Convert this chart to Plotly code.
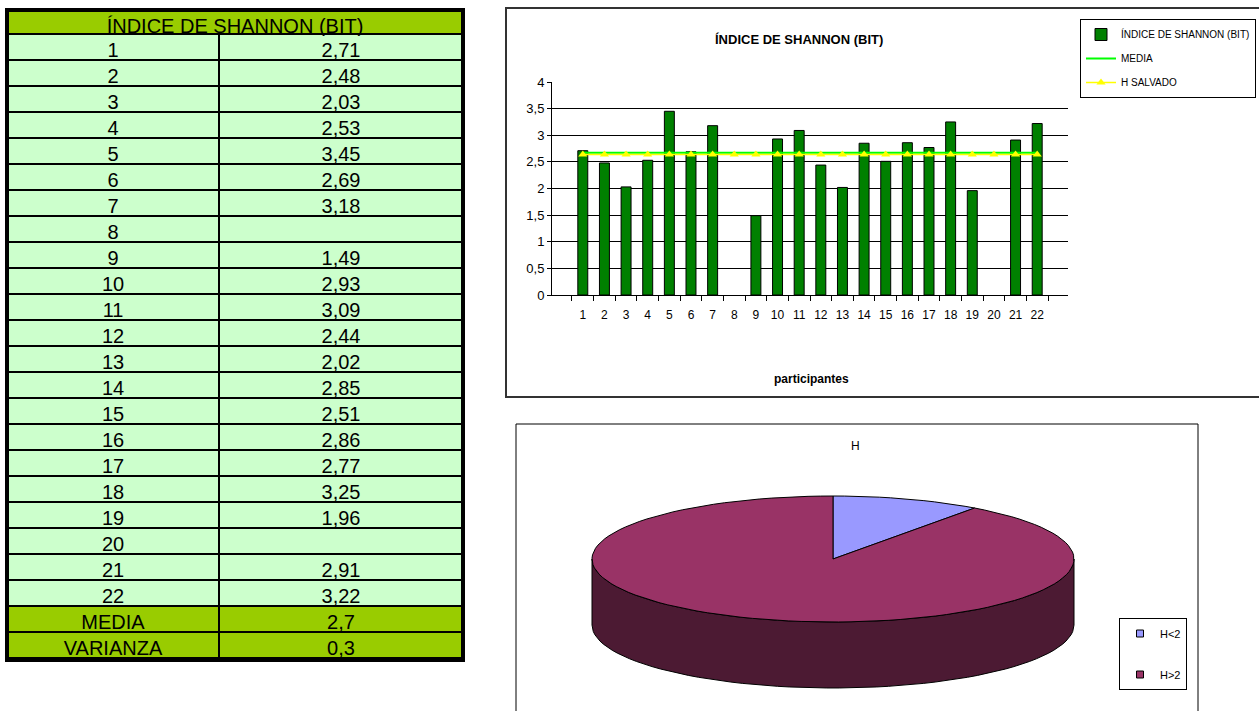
import math
import plotly.graph_objects as go

W, H = 1259, 711

# ---------------- data ----------------
participants = [str(i) for i in range(1, 23)]
shannon = [2.71, 2.48, 2.03, 2.53, 3.45, 2.69, 3.18, None, 1.49, 2.93, 3.09,
           2.44, 2.02, 2.85, 2.51, 2.86, 2.77, 3.25, 1.96, None, 2.91, 3.22]
media_line = [2.67, 2.67, 2.67, 2.67, 2.67, 2.67, 2.67, 2.67, 2.67, 2.67, 2.67,
              2.67, 2.67, 2.67, 2.67, 2.67, 2.67, 2.67, 2.67, 2.67, 2.67, 2.67]
h_salvado = [2.64, 2.64, 2.64, 2.64, 2.64, 2.64, 2.64, 2.64, 2.64, 2.64, 2.64,
             2.64, 2.64, 2.64, 2.64, 2.64, 2.64, 2.64, 2.64, 2.64, 2.64, 2.64]
stat_labels = ["MEDIA", "VARIANZA"]
stat_values = [2.7, 0.3]
pie_labels = ["H<2", "H>2"]
pie_values = [2, 18]

table_title = "ÍNDICE DE SHANNON (BIT)"
series_names = ["ÍNDICE DE SHANNON (BIT)", "MEDIA", "H SALVADO"]

FONT = "Arial, Liberation Sans, sans-serif"
LIGHT = "#CCFFCC"
LIME = "#99CC00"


def fmt(v):
    return "" if v is None else str(v).replace(".", ",")


def px(x):
    return x / W


def py(y):
    return 1 - y / H


fig = go.Figure()

# ---------------- table ----------------
col1 = participants + stat_labels
col2 = [fmt(v) for v in shannon] + [fmt(v) for v in stat_values]
fills = [LIGHT] * len(participants) + [LIME] * len(stat_labels)

fig.add_trace(go.Table(
    domain=dict(x=[px(7), px(463)], y=[0, py(10)]),
    columnwidth=[212, 244],
    header=dict(values=["", ""], height=24, fill_color=LIME,
                line=dict(color="black", width=2)),
    cells=dict(values=[col1, col2], height=26, align="center",
               fill_color=[fills, fills],
               line=dict(color="black", width=2),
               font=dict(family=FONT, size=20, color="black")),
))
fig.add_trace(go.Table(
    domain=dict(x=[px(7), px(463)], y=[py(36), py(10)]),
    header=dict(values=[table_title], height=24, fill_color=LIME, align="center",
                line=dict(color="black", width=2),
                font=dict(family=FONT, size=20, color="black")),
    cells=dict(values=[[]]),
))

# ---------------- bar chart ----------------
fig.add_trace(go.Bar(
    x=participants, y=shannon, name=series_names[0],
    marker=dict(color="#008000", line=dict(color="black", width=1)),
    legendgroup="a", xaxis="x", yaxis="y",
))
fig.add_trace(go.Scatter(
    x=participants, y=media_line, name=series_names[1], mode="lines",
    line=dict(color="#00FF00", width=2), legendgroup="b", xaxis="x", yaxis="y",
))
fig.add_trace(go.Scatter(
    x=participants, y=h_salvado, name=series_names[2], mode="lines+markers",
    line=dict(color="#FFFF00", width=1.5),
    marker=dict(symbol="triangle-up", size=8, color="#FFFF00"),
    legendgroup="c", xaxis="x", yaxis="y",
))

# ---------------- 3D pie ----------------
RX, RY, DEPTH = 241, 63, 66
top_colors = ["#9999FF", "#993366"]
side_colors = ["#4C4C80", "#4C1A33"]


def arc(a, b, dy=0, n=120):
    pts = []
    steps = max(2, int(n * (b - a) / 360) + 2)
    for i in range(steps):
        t = math.radians(a + (b - a) * i / (steps - 1))
        pts.append((RX * math.sin(t), RY * math.cos(t) - dy))
    return pts


total = sum(pie_values)
angles = []
acc = 0
for v in pie_values:
    angles.append((acc / total * 360, (acc + v) / total * 360))
    acc += v

for (a, b), sc in zip(angles, side_colors):
    lo, hi = max(a, 90), min(b, 270)
    if lo < hi:
        pts = arc(lo, hi) + arc(lo, hi, DEPTH)[::-1]
        pts.append(pts[0])
        fig.add_trace(go.Scatter(
            x=[p[0] for p in pts], y=[p[1] for p in pts], mode="lines",
            fill="toself", fillcolor=sc, line=dict(color="black", width=1),
            showlegend=False, hoverinfo="skip", xaxis="x2", yaxis="y2"))

for (a, b), tc in zip(angles, top_colors):
    pts = [(0, 0)] + arc(a, b) + [(0, 0)]
    fig.add_trace(go.Scatter(
        x=[p[0] for p in pts], y=[p[1] for p in pts], mode="lines",
        fill="toself", fillcolor=tc, line=dict(color="black", width=1),
        showlegend=False, hoverinfo="skip", xaxis="x2", yaxis="y2"))

for lab, tc in zip(pie_labels, top_colors):
    fig.add_trace(go.Scatter(
        x=[None], y=[None], mode="markers", name=lab,
        marker=dict(symbol="square", size=7, color=tc, line=dict(color="black", width=1)),
        legend="legend2", legendgroup=lab, xaxis="x2", yaxis="y2"))

# ---------------- layout ----------------
fig.update_layout(
    width=W, height=H, margin=dict(l=0, r=0, t=0, b=0, autoexpand=False),
    paper_bgcolor="white", plot_bgcolor="rgba(0,0,0,0)",
    separators=",.",
    font=dict(family=FONT, color="black", size=12),
    bargap=0.54,
    xaxis=dict(domain=[px(552), px(1068)], type="category", tickson="boundaries",
               ticks="outside", ticklen=5, tickcolor="black", showline=True,
               linecolor="black", showgrid=False, tickfont=dict(size=12),
               ticklabelstandoff=9,
               tickangle=0, anchor="y", fixedrange=True, automargin=False),
    yaxis=dict(domain=[py(295), py(82)], range=[0, 4], dtick=0.5, showgrid=True,
               gridcolor="black", gridwidth=1, showline=True, linecolor="black",
               ticks="outside", ticklen=4, tickcolor="black", zeroline=False,
               tickfont=dict(size=13), anchor="x", automargin=False),
    xaxis2=dict(domain=[px(516), px(1198)], range=[516 - 833, 1198 - 833],
                visible=False, anchor="y2"),
    yaxis2=dict(domain=[0, py(424)], range=[559 - 711, 559 - 424],
                visible=False, anchor="x2"),
    legend=dict(x=px(1080), y=py(19), xanchor="left", yanchor="top",
                bordercolor="black", borderwidth=1, bgcolor="white",
                font=dict(size=10), tracegroupgap=5, itemwidth=30),
    legend2=dict(x=px(1119), y=py(618), xanchor="left", yanchor="top",
                 bordercolor="black", borderwidth=1, bgcolor="white",
                 font=dict(size=11), tracegroupgap=22, itemwidth=30),
    showlegend=True,
    annotations=[
        dict(text="<b>ÍNDICE DE SHANNON (BIT)</b>", x=px(885), y=py(30),
             xref="paper", yref="paper", showarrow=False, font=dict(size=13)),
        dict(text="<b>participantes</b>", x=px(811), y=py(379),
             xref="paper", yref="paper", showarrow=False, font=dict(size=12)),
        dict(text="H", x=px(862), y=py(446),
             xref="paper", yref="paper", showarrow=False, font=dict(size=12)),
    ],
    shapes=[
        dict(type="rect", xref="paper", yref="paper", x0=px(506), x1=px(1262),
             y0=py(397), y1=py(8), line=dict(color="#333333", width=2)),
        dict(type="rect", xref="paper", yref="paper", x0=px(516), x1=px(1198),
             y0=py(716), y1=py(424), line=dict(color="black", width=1)),
        dict(type="rect", xref="paper", yref="paper", x0=px(7), x1=px(463),
             y0=py(660), y1=py(10), line=dict(color="black", width=4)),
    ],
)

fig.write_html(
    "out.html",
    config={"displayModeBar": False},
    post_script="document.body.style.margin='0';document.body.style.overflow='hidden';",
)
